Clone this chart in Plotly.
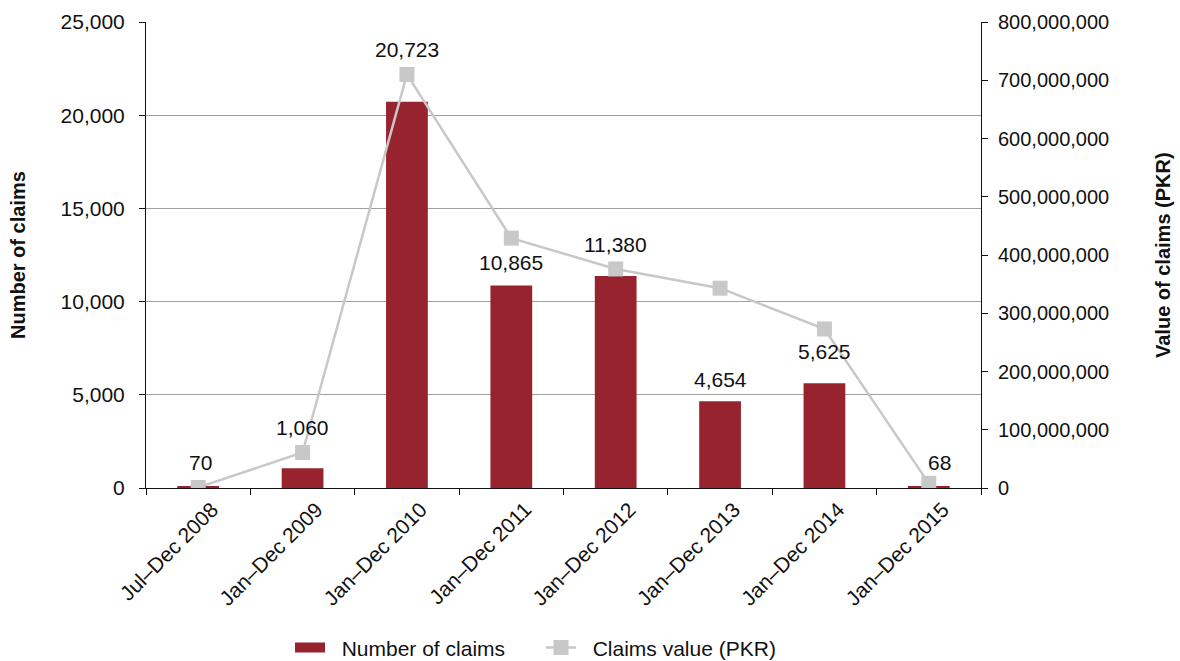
import plotly.graph_objects as go

# Claims by period
periods = ["Jul–Dec 2008", "Jan–Dec 2009", "Jan–Dec 2010", "Jan–Dec 2011",
           "Jan–Dec 2012", "Jan–Dec 2013", "Jan–Dec 2014", "Jan–Dec 2015"]
claim_counts = [70, 1060, 20723, 10865, 11380, 4654, 5625, 68]
claim_values = [1_000_000, 61_000_000, 710_000_000, 429_000_000,
                376_000_000, 343_000_000, 273_000_000, 8_000_000]

# Label offsets (pixels) so the count labels clear the value markers
label_yshift = [24, 41, 52, 23, 31, 22, 32, 24]
label_xshift = [2, 0, 0, 0, 0, 0, 0, 11]

FONT = "Liberation Sans, Arial, Helvetica, sans-serif"
BAR = "#96232D"
LINE = "#C8C8C8"
NBSP = "\u00a0"

fig = go.Figure()
fig.add_trace(go.Bar(
    x=periods, y=claim_counts, name="Number of claims",
    marker=dict(color=BAR, line=dict(width=0)),
    yaxis="y", showlegend=False,
))
# wide swatch for the bar series in the legend
fig.add_trace(go.Scatter(
    x=[None], y=[None], name=NBSP * 2 + "Number of claims", mode="lines",
    line=dict(color=BAR, width=12), yaxis="y",
))
fig.add_trace(go.Scatter(
    x=periods, y=claim_values, name=NBSP * 2 + "Claims value (PKR)",
    mode="lines+markers",
    line=dict(color=LINE, width=2.5),
    marker=dict(symbol="square", size=15, color=LINE),
    yaxis="y2",
))

for p, c, ys, xs in zip(periods, claim_counts, label_yshift, label_xshift):
    fig.add_annotation(
        x=p, y=c, xref="x", yref="y", text=f"{c:,}", showarrow=False,
        yanchor="middle", yshift=ys, xshift=xs,
        font=dict(family=FONT, size=21, color="#111"),
    )

PLOT_L, PLOT_R = 146, 981


def px_to_paper(px):
    return (px - PLOT_L) / (PLOT_R - PLOT_L)


# Axis titles
fig.add_annotation(
    x=px_to_paper(18), y=0.5, xref="paper", yref="paper",
    text="<b>Number of claims</b>", showarrow=False, textangle=-90,
    xanchor="center", yanchor="middle",
    font=dict(family=FONT, size=20, color="#111"),
)
fig.add_annotation(
    x=px_to_paper(1163), y=0.5, xref="paper", yref="paper",
    text="<b>Value of claims (PKR)</b>", showarrow=False, textangle=-90,
    xanchor="center", yanchor="middle",
    font=dict(family=FONT, size=20, color="#111"),
)

fig.update_layout(
    width=1180, height=661,
    margin=dict(l=PLOT_L, r=1180 - PLOT_R, t=22, b=173, autoexpand=False),
    paper_bgcolor="white", plot_bgcolor="white",
    font=dict(family=FONT, size=21, color="#111"),
    bargap=0.6,
    showlegend=True,
    legend=dict(orientation="h", x=px_to_paper(290), xanchor="left",
                y=-0.343, yanchor="middle", font=dict(size=21),
                entrywidth=206, entrywidthmode="pixels", tracegroupgap=0),
    xaxis=dict(
        type="category", tickson="boundaries", ticks="outside", ticklen=6,
        tickcolor="#111", showline=True, linecolor="#111", linewidth=1,
        tickangle=-45, tickfont=dict(size=21), ticklabelshift=14,
        showgrid=False, automargin=False,
    ),
    yaxis=dict(
        range=[0, 25000], dtick=5000, tickformat=",d",
        ticks="outside", ticklen=6, tickcolor="#111",
        showline=True, linecolor="#111", linewidth=1,
        showgrid=True, gridcolor="#A0A0A0", gridwidth=1,
        zeroline=False, automargin=False, ticklabelstandoff=10,
        tickfont=dict(size=21),
    ),
    yaxis2=dict(
        range=[0, 800_000_000], dtick=100_000_000, tickformat=",d",
        overlaying="y", side="right",
        ticks="outside", ticklen=6, tickcolor="#111",
        showline=True, linecolor="#111", linewidth=1,
        showgrid=False, zeroline=False, automargin=False,
        ticklabelstandoff=6, tickfont=dict(size=20),
    ),
)

fig.write_html("out.html")
